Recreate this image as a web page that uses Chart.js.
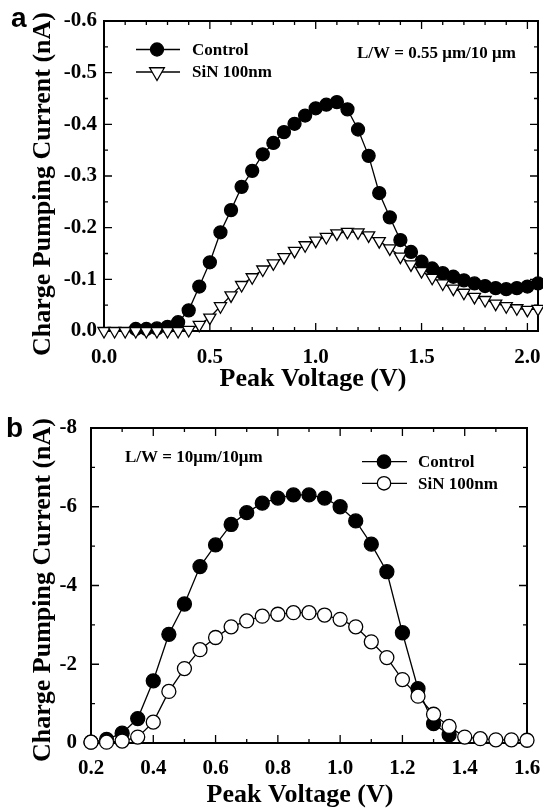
<!DOCTYPE html>
<html>
<head>
<meta charset="utf-8">
<title>Charge pumping current vs peak voltage</title>
<script src="https://cdn.jsdelivr.net/npm/chart.js@4.4.1/dist/chart.umd.min.js"></script>
<style>
  body { margin: 0; background: #fff; }
  canvas { position: absolute; left: 0; }
  #chartA { top: 0; }
  #chartB { top: 400px; }
</style>
</head>
<body>
<canvas id="chartA" width="543" height="400"></canvas>
<canvas id="chartB" width="543" height="411"></canvas>
<script>
// ---- data ----
const seriesNames = ['Control', 'SiN 100nm'];
const xTitle = 'Peak Voltage (V)';
const yTitle = 'Charge Pumping Current (nA)';

// panel (a), L/W = 0.55um/10um
const voltsCtrlA = [0.15, 0.20, 0.25, 0.30, 0.35, 0.40, 0.45, 0.50, 0.55, 0.60, 0.65, 0.70, 0.75, 0.80, 0.85, 0.90, 0.95, 1.00, 1.05, 1.10,
                    1.15, 1.20, 1.25, 1.30, 1.35, 1.40, 1.45, 1.50, 1.55, 1.60, 1.65, 1.70, 1.75, 1.80, 1.85, 1.90, 1.95, 2.00, 2.05];
const ctrlA = [-0.004, -0.004, -0.005, -0.008, -0.017, -0.040, -0.086, -0.133, -0.191, -0.234, -0.279, -0.310, -0.342, -0.364, -0.385, -0.401, -0.417, -0.431, -0.438, -0.443,
               -0.429, -0.390, -0.339, -0.267, -0.220, -0.176, -0.153, -0.134, -0.121, -0.112, -0.105, -0.098, -0.092, -0.087, -0.083, -0.081, -0.083, -0.086, -0.092];
const voltsSinA = [0.00, 0.05, 0.10, 0.15, 0.20, 0.25, 0.30, 0.35, 0.40, 0.45, 0.50, 0.55, 0.60, 0.65, 0.70, 0.75, 0.80, 0.85, 0.90, 0.95, 1.00,
                   1.05, 1.10, 1.15, 1.20, 1.25, 1.30, 1.35, 1.40, 1.45, 1.50, 1.55, 1.60, 1.65, 1.70, 1.75, 1.80, 1.85, 1.90, 1.95, 2.00, 2.05];
const sinA = [0, 0, 0, 0, 0, 0, 0, 0, -0.002, -0.012, -0.026, -0.048, -0.069, -0.089, -0.104, -0.119, -0.131, -0.143, -0.155, -0.166, -0.175,
              -0.182, -0.189, -0.192, -0.191, -0.185, -0.174, -0.160, -0.144, -0.129, -0.116, -0.103, -0.092, -0.082, -0.074, -0.066, -0.060, -0.053, -0.048, -0.044, -0.041, -0.043];

// panel (b), L/W = 10um/10um
const voltsCtrlB = [0.20, 0.25, 0.30, 0.35, 0.40, 0.45, 0.50, 0.55, 0.60, 0.65, 0.70, 0.75, 0.80, 0.85, 0.90, 0.95, 1.00, 1.05, 1.10, 1.15, 1.20, 1.25, 1.30, 1.35];
const ctrlB = [-0.02, -0.09, -0.25, -0.62, -1.58, -2.76, -3.53, -4.48, -5.03, -5.55, -5.85, -6.09, -6.22, -6.30, -6.30, -6.22, -6.00, -5.64, -5.05, -4.35, -2.80, -1.38, -0.49, -0.21];
const voltsSinB = [0.20, 0.25, 0.30, 0.35, 0.40, 0.45, 0.50, 0.55, 0.60, 0.65, 0.70, 0.75, 0.80, 0.85, 0.90, 0.95, 1.00, 1.05, 1.10, 1.15, 1.20, 1.25, 1.30, 1.35,
                   1.40, 1.45, 1.50, 1.55, 1.60];
const sinB = [-0.02, -0.02, -0.05, -0.15, -0.53, -1.31, -1.89, -2.37, -2.68, -2.95, -3.10, -3.22, -3.27, -3.31, -3.31, -3.25, -3.14, -2.95, -2.57, -2.17, -1.61, -1.19, -0.73, -0.42,
              -0.15, -0.11, -0.08, -0.08, -0.07];

const serif = "'Liberation Serif', 'Times New Roman', serif";

function pairs(xs, ys) {
  return xs.map((v, i) => ({ x: v, y: ys[i] }));
}

// legend / frame markers, same look as the datasets
function drawMarker(ctx, ds, x, y, r) {
  ctx.beginPath();
  if (ds.pointStyle === 'triangle') {
    for (let k = 0; k < 3; k++) {
      const ang = Math.PI + k * 2 * Math.PI / 3;
      const px = x + Math.sin(ang) * r, py = y - Math.cos(ang) * r;
      if (k) ctx.lineTo(px, py); else ctx.moveTo(px, py);
    }
    ctx.closePath();
  } else {
    ctx.arc(x, y, r, 0, Math.PI * 2);
  }
  ctx.fillStyle = ds.pointBackgroundColor;
  ctx.fill();
  ctx.stroke();
}

// box frame with inward ticks, titles, legend, notes
const decorPlugin = {
  id: 'decor',
  beforeDatasetsDraw(chart, args, opts) {
    const { ctx, chartArea: a, scales: { x, y } } = chart;
    ctx.save();
    ctx.strokeStyle = '#000';
    ctx.lineWidth = 1.3;
    ctx.beginPath();
    x.ticks.forEach(t => {
      const px = x.getPixelForValue(t.value);
      const len = t.label ? opts.major : opts.minor;
      ctx.moveTo(px, a.bottom); ctx.lineTo(px, a.bottom - len);
      ctx.moveTo(px, a.top); ctx.lineTo(px, a.top + len);
    });
    y.ticks.forEach(t => {
      const py = y.getPixelForValue(t.value);
      const len = t.label ? opts.major : opts.minor;
      ctx.moveTo(a.left, py); ctx.lineTo(a.left + len, py);
      ctx.moveTo(a.right, py); ctx.lineTo(a.right - len, py);
    });
    ctx.stroke();
    ctx.lineWidth = 2;
    ctx.strokeRect(a.left, a.top, a.right - a.left, a.bottom - a.top);
    ctx.restore();
  },
  afterDraw(chart, args, opts) {
    const { ctx } = chart;
    ctx.save();
    ctx.fillStyle = '#000';
    ctx.strokeStyle = '#000';

    // axis titles
    ctx.font = 'bold 26px ' + serif;
    ctx.textAlign = 'center';
    ctx.textBaseline = 'alphabetic';
    ctx.fillText(xTitle, opts.xTitle.x, opts.xTitle.y);
    ctx.save();
    ctx.translate(opts.yTitle.x, opts.yTitle.y);
    ctx.rotate(-Math.PI / 2);
    ctx.fillText(yTitle, 0, 0);
    ctx.restore();

    // legend
    const lg = opts.legend;
    ctx.font = 'bold 17px ' + serif;
    ctx.textAlign = 'left';
    ctx.textBaseline = 'middle';
    chart.data.datasets.forEach((ds, i) => {
      const ly = lg.rows[i];
      ctx.lineWidth = 1.3;
      ctx.beginPath();
      ctx.moveTo(lg.x1, ly); ctx.lineTo(lg.x2, ly);
      ctx.stroke();
      drawMarker(ctx, ds, lg.xm, ly, lg.r[i]);
      ctx.fillStyle = '#000';
      ctx.fillText(ds.label, lg.xt, ly + 1);
    });

    // device size note
    ctx.fillText(opts.note.text, opts.note.x, opts.note.y);

    // panel letter
    ctx.font = "bold 28px 'Liberation Sans', Arial, sans-serif";
    ctx.textBaseline = 'alphabetic';
    ctx.fillText(opts.letter.text, opts.letter.x, opts.letter.y);
    ctx.restore();
  }
};

function panelChart(id, p) {
  const tickFont = { family: serif, size: 21, weight: 'bold' };
  return new Chart(document.getElementById(id), {
    type: 'line',
    data: {
      datasets: [
        {
          label: seriesNames[0],
          data: pairs(p.ctrlX, p.ctrlY),
          order: 1,
          borderColor: '#000',
          borderWidth: 1.3,
          pointStyle: 'circle',
          pointRadius: p.radius,
          pointBackgroundColor: '#000',
          pointBorderColor: '#000',
          pointBorderWidth: 1.3,
          clip: false
        },
        {
          label: seriesNames[1],
          data: pairs(p.sinX, p.sinY),
          order: 0,
          borderColor: '#000',
          borderWidth: 1.3,
          pointStyle: p.sinStyle,
          pointRotation: p.sinRotation,
          pointRadius: p.sinRadius,
          pointBackgroundColor: '#fff',
          pointBorderColor: '#000',
          pointBorderWidth: 1.3,
          clip: false
        }
      ]
    },
    options: {
      responsive: false,
      animation: false,
      devicePixelRatio: 1,
      elements: { line: { tension: 0 } },
      layout: { padding: p.padding, autoPadding: false },
      plugins: {
        legend: { display: false },
        tooltip: { enabled: false },
        decor: p.decor
      },
      scales: {
        x: {
          type: 'linear',
          min: p.xMin,
          max: p.xMax,
          grid: { display: false, drawTicks: false },
          border: { display: false },
          ticks: {
            stepSize: p.xStep,
            includeBounds: false,
            autoSkip: false,
            maxRotation: 0,
            padding: p.xPad,
            color: '#000',
            font: tickFont,
            callback: p.xLabel
          },
          afterFit(s) { s.height = p.xHeight; s.paddingLeft = 0; s.paddingRight = 0; }
        },
        y: {
          type: 'linear',
          min: p.yMin,
          max: 0,
          reverse: true,
          grid: { display: false, drawTicks: false },
          border: { display: false },
          ticks: {
            stepSize: p.yStep,
            autoSkip: false,
            padding: p.yPad,
            color: '#000',
            font: tickFont,
            callback: p.yLabel
          },
          afterFit(s) { s.width = p.yWidth; s.paddingTop = 0; s.paddingBottom = 0; }
        }
      }
    },
    plugins: [decorPlugin]
  });
}

panelChart('chartA', {
  ctrlX: voltsCtrlA, ctrlY: ctrlA, sinX: voltsSinA, sinY: sinA,
  radius: 6.5, sinStyle: 'triangle', sinRotation: 180, sinRadius: 7,
  xMin: 0, xMax: 2.05, xStep: 0.1, yMin: -0.6, yStep: 0.05,
  xLabel: v => Math.round(v * 10) % 5 === 0 ? v.toFixed(1) : '',
  yLabel: v => Math.round(v * 100) % 10 === 0 ? (Math.abs(v) < 1e-9 ? '0.0' : v.toFixed(1)) : '',
  padding: { left: 0, right: 5, top: 21, bottom: 0 },
  yWidth: 104, xHeight: 69, xPad: 14, yPad: 7,
  decor: {
    major: 8, minor: 4,
    xTitle: { x: 313, y: 386 },
    yTitle: { x: 50, y: 184 },
    legend: { x1: 136, x2: 180, xm: 157, xt: 192, rows: [49.5, 72], r: [6.5, 8.5] },
    note: { text: 'L/W = 0.55 \u03bcm/10 \u03bcm', x: 357, y: 54 },
    letter: { text: 'a', x: 11, y: 27 }
  }
});

panelChart('chartB', {
  ctrlX: voltsCtrlB, ctrlY: ctrlB, sinX: voltsSinB, sinY: sinB,
  radius: 7, sinStyle: 'circle', sinRotation: 0, sinRadius: 7,
  xMin: 0.2, xMax: 1.6, xStep: 0.1, yMin: -8, yStep: 1,
  xLabel: v => Math.round(v * 10) % 2 === 0 ? v.toFixed(1) : '',
  yLabel: v => Math.round(v) % 2 === 0 ? (Math.abs(v) < 1e-9 ? '0' : String(Math.round(v))) : '',
  padding: { left: 0, right: 16, top: 28, bottom: 0 },
  yWidth: 91, xHeight: 68, xPad: 13, yPad: 14,
  decor: {
    major: 8, minor: 4,
    xTitle: { x: 300, y: 402 },
    yTitle: { x: 50, y: 190 },
    legend: { x1: 362, x2: 407, xm: 384, xt: 418, rows: [61.7, 83.3], r: [6.7, 6.7] },
    note: { text: 'L/W = 10\u03bcm/10\u03bcm', x: 125, y: 57.5 },
    letter: { text: 'b', x: 6, y: 37 }
  }
});
</script>
</body>
</html>
